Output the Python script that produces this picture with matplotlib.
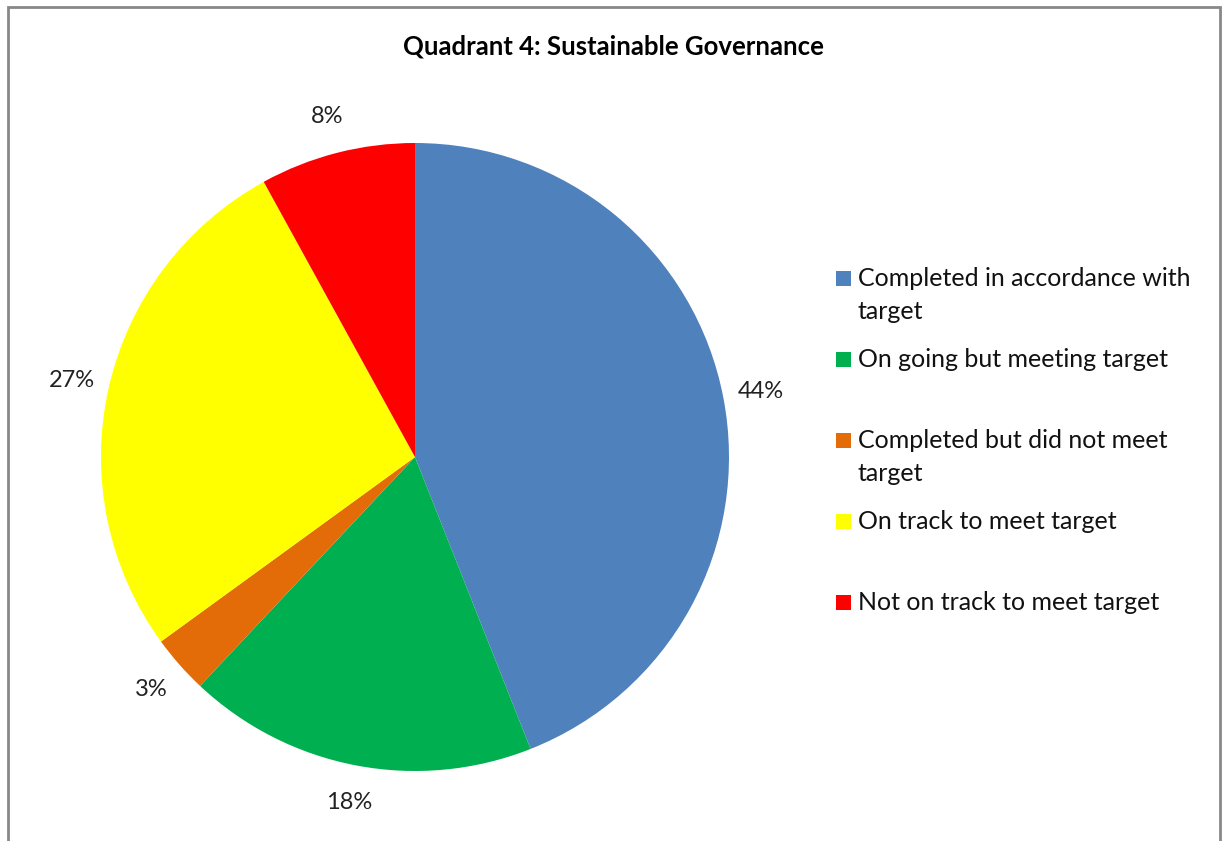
import matplotlib.pyplot as plt
from matplotlib.patches import Rectangle

plt.rcParams['font.family'] = ['Lato', 'DejaVu Sans']

# Chart data
labels = [
    "Completed in accordance with\ntarget",
    "On going but meeting target",
    "Completed but did not meet\ntarget",
    "On track to meet target",
    "Not on track to meet target",
]
shares = [44, 18, 3, 27, 8]
colors = ["#4F81BD", "#00B050", "#E36C09", "#FFFF00", "#FF0000"]
title = "Quadrant 4: Sustainable Governance"

W, H = 1223, 841
fig = plt.figure(figsize=(W / 100, H / 100), dpi=100)

# Pie axes: centre (415, 457) px, radius 314 px
cx, cy, r = 415, 457, 314
ax = fig.add_axes([(cx - r) / W, (H - cy - r) / H, 2 * r / W, 2 * r / H])
wedges, texts, autotexts = ax.pie(
    shares, colors=colors, startangle=90, counterclock=False,
    autopct=lambda p: f"{p:.0f}%", pctdistance=1.12,
    wedgeprops=dict(linewidth=0), textprops=dict(fontsize=17, color="#222222"),
)
ax.set_xlim(-1, 1)
ax.set_ylim(-1, 1)
ax.set_aspect("equal")
ax.axis("off")

# Title
fig.text(613 / W, 1 - 46 / H, title, ha="center", va="center",
         fontsize=18.5, fontweight="bold")

# Legend drawn by hand (Excel-style spacing, marker on first line)
for i, (lab, col) in enumerate(zip(labels, colors)):
    y = 278 + 81 * i
    fig.patches.append(Rectangle((836 / W, 1 - (y + 8) / H), 15 / W, 15 / H,
                                 transform=fig.transFigure, facecolor=col,
                                 edgecolor="none"))
    for j, line in enumerate(lab.split("\n")):
        fig.text(858 / W, 1 - (y + 8 + 33 * j) / H, line, ha="left",
                 va="baseline", fontsize=18, color="#111111")

# Chart frame
fig.patches.append(Rectangle((8 / W, -0.02), (1220 - 8) / W, 1.02 - 7 / H,
                             transform=fig.transFigure, fill=False,
                             edgecolor="#888888", linewidth=2))

fig.savefig("out.png", dpi=100)
